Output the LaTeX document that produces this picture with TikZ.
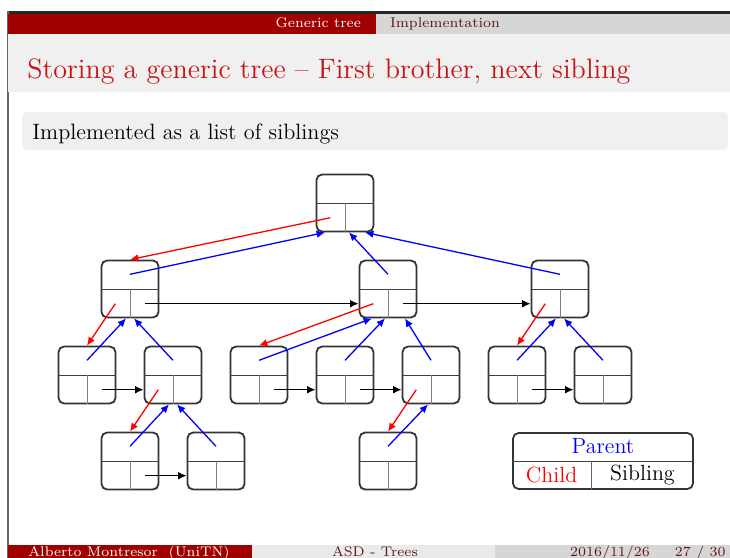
\documentclass[tikz,border=0pt]{standalone}
\usetikzlibrary{calc,arrows.meta}
\definecolor{hdred}{RGB}{160,0,0}
\definecolor{ttred}{RGB}{200,18,18}
\definecolor{hdgray}{RGB}{214,214,214}
\definecolor{bandgray}{RGB}{240,240,240}
\definecolor{ftlight}{RGB}{234,234,234}
\definecolor{ftdark}{RGB}{96,22,22}

\begin{document}
\begin{tikzpicture}[x=0.5pt,y=-0.5pt,>={Latex[length=4.2pt,width=3.8pt]}]
  \def\f{86}
  \def\fs{\fontsize{7}{8.5}\selectfont}

\tikzstyle{record}=[rectangle,draw=black!80,line width=0.9pt,rounded corners=2.8pt,minimum size=28.5pt,inner sep=0pt]
\tikzstyle{child}=[->,red,line width=0.65pt]
\tikzstyle{parent}=[->,blue,line width=0.65pt]
\tikzstyle{sibling}=[->,black,line width=0.65pt]
\tikzstyle{divider}=[black!75,line width=0.5pt]

% slide frame
\useasboundingbox (0,0) rectangle (730,558);
\fill[white] (0,0) rectangle (730,558);
\fill[black!85] (8,11) rectangle (730,14);
\draw[black!60,line width=0.6pt] (8,11) -- (8,558);
\fill[hdred] (8,14) rectangle (376,34);
\fill[hdgray] (376,14) rectangle (730,34);
\fill[bandgray] (8,34) rectangle (730,92);
\node[anchor=base east,text=white,font=\fs] (sec) at (368,27) {Generic tree};
\node[anchor=base west,text=ftdark,font=\fs] (subsec) at (383,27) {Implementation};
\node[anchor=base west,text=ttred,font=\fontsize{14.05}{17}\selectfont,inner sep=0pt] (title) at (27,78) {Storing a generic tree -- First brother, next sibling};
\fill[bandgray] (22,112) [rounded corners=2.5pt] rectangle (728,150);
\node[anchor=base west,font=\fontsize{11.1}{13}\selectfont,inner sep=0pt] (block) at (32,139) {Implemented as a list of siblings};
\fill[hdred] (8,545) rectangle (252,558);
\fill[ftlight] (252,545) rectangle (495,558);
\fill[hdgray] (495,545) rectangle (730,558);
\node[anchor=base,text=white,font=\fs] (author) at (129,556) {Alberto Montresor \ (UniTN)};
\node[anchor=base,text=ftdark,font=\fs] (short) at (375,556) {ASD - Trees};
\node[anchor=base,text=ftdark,font=\fs] (date) at (610,556) {2016/11/26};
\node[anchor=base east,text=ftdark,font=\fs,inner sep=1pt] (page) at (728,556) {27 / 30};

% tree
\begin{scope}[shift={(345,203)}]
\node[record] (N1) at (0*\f,0*\f) {};
\node[record] (N2) at (-2.5*\f,1*\f) {};
\node[record] (N3) at (0.5*\f,1*\f) {};
\node[record] (N4) at (2.5*\f,1*\f) {};
\node[record] (N5) at (-3*\f,2*\f) {};
\node[record] (N6) at (-2*\f,2*\f) {};
\node[record] (N7) at (-1*\f,2*\f) {};
\node[record] (N8) at (0*\f,2*\f) {};
\node[record] (N9) at (1*\f,2*\f) {};
\node[record] (N10) at (2*\f,2*\f) {};
\node[record] (N11) at (3*\f,2*\f) {};
\node[record] (N12) at (-2.5*\f,3*\f) {};
\node[record] (N13) at (-1.5*\f,3*\f) {};
\node[record] (N14) at (0.5*\f,3*\f) {};
\node[record,minimum width=90pt,minimum height=28pt] (L) at (3*\f,3*\f) {};
\end{scope}

\foreach \i in {1,...,14} {
  \draw[divider] (N\i.west) -- (N\i.east);
  \draw[black!50,line width=0.5pt] (N\i.center) -- (N\i.south);
  \coordinate (N\i-p) at ($(N\i.north)!0.5!(N\i.center)$);
  \coordinate (N\i-c) at ($(N\i.south west)!0.5!(N\i.center)$);
  \coordinate (N\i-s) at ($(N\i.south east)!0.5!(N\i.center)$);
}

% first child
\draw[child] (N1-c) -- (N2.north);
\draw[child] (N2-c) -- (N5.north);
\draw[child] (N6-c) -- (N12.north);
\draw[child] (N3-c) -- (N7.north);
\draw[child] (N9-c) -- (N14.north);
\draw[child] (N4-c) -- (N10.north);
% parent
\draw[parent] (N2-p) -- ([xshift=-10pt]N1.south);
\draw[parent] (N3-p) -- ([xshift=2pt]N1.south);
\draw[parent] (N4-p) -- ([xshift=10pt]N1.south);
\draw[parent] (N5-p) -- ([xshift=-2pt]N2.south);
\draw[parent] (N6-p) -- ([xshift=2pt]N2.south);
\draw[parent] (N7-p) -- ([xshift=-8pt]N3.south);
\draw[parent] (N8-p) -- ([xshift=-1.5pt]N3.south);
\draw[parent] (N9-p) -- ([xshift=8.5pt]N3.south);
\draw[parent] (N10-p) -- ([xshift=-2pt]N4.south);
\draw[parent] (N11-p) -- ([xshift=2pt]N4.south);
\draw[parent] (N12-p) -- ([xshift=-2pt]N6.south);
\draw[parent] (N13-p) -- ([xshift=2pt]N6.south);
\draw[parent] (N14-p) -- ([xshift=-1.5pt]N9.south);
% next sibling
\draw[sibling] (N2-s) -- (N2-s -| N3.west);
\draw[sibling] (N3-s) -- (N3-s -| N4.west);
\draw[sibling] (N5-s) -- (N5-s -| N6.west);
\draw[sibling] (N7-s) -- (N7-s -| N8.west);
\draw[sibling] (N8-s) -- (N8-s -| N9.west);
\draw[sibling] (N10-s) -- (N10-s -| N11.west);
\draw[sibling] (N12-s) -- (N12-s -| N13.west);

% legend
\coordinate (L-v) at ([xshift=-6pt]L.south);
\coordinate (L-m) at (L-v |- L.center);
\draw[divider] (L.west) -- (L.east);
\draw[black!60,line width=0.5pt] (L-m) -- (L-v);
\node[text=blue,font=\fontsize{11}{13}\selectfont] (Lp) at ($(L.north)!0.5!(L.center)$) {Parent};
\node[text=red,font=\fontsize{11}{13}\selectfont] (Lc) at ($(L.south west)!0.5!(L-m)$) {Child};
\node[font=\fontsize{11}{13}\selectfont] (Ls) at ($(L.south east)!0.5!(L-m)$) {Sibling};
\end{tikzpicture}
\end{document}
